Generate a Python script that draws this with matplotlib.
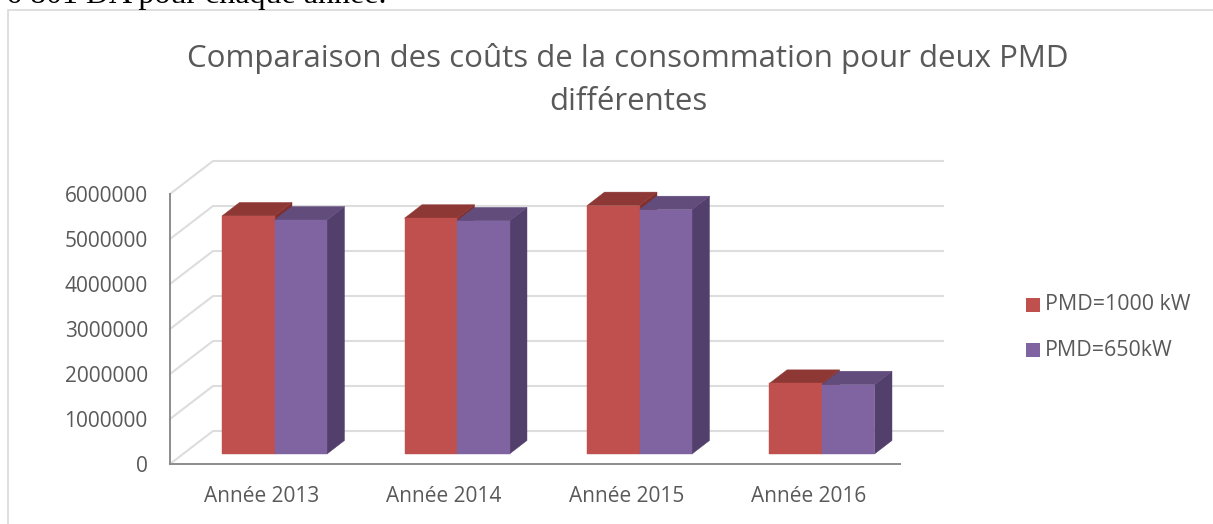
"""Comparaison des couts: fake-3D clustered columns, drawn on a flat axes."""
import matplotlib
matplotlib.use("Agg")
import matplotlib.pyplot as plt
from matplotlib.patches import Polygon, Rectangle

years = ["Année 2013", "Année 2014", "Année 2015", "Année 2016"]
pmd_1000 = [5290000, 5240000, 5520000, 1570000]
pmd_650 = [5200000, 5180000, 5430000, 1540000]
y_ticks = [0, 1000000, 2000000, 3000000, 4000000, 5000000, 6000000]
series_names = ["PMD=1000 kW", "PMD=650kW"]

W, H = 1213, 524
FONT = "Open Sans"
TEXT = "#595959"

RED = "#c0504d"
RED_TOP = "#8e3836"
PURPLE = "#8064a2"
PURPLE_TOP = "#624c7c"
PURPLE_SIDE = "#523f6b"
RED_SIDE = "#7f302e"


def px_x(x):
    return x / W


def px_y(y):
    return 1 - y / H


fig = plt.figure(figsize=(W / 100, H / 100), dpi=100)
fig.patches.append(Rectangle((px_x(8), px_y(530)), px_x(1300), px_y(10) - px_y(530),
                             transform=fig.transFigure, fc="white", ec="#d9d9d9", lw=1.2,
                             zorder=-1))

# front plane of the fake 3D box: 170..900 px wide, 194..464 px high
ax = fig.add_axes([px_x(170), px_y(464), px_x(900 - 170), px_y(194) - px_y(464)])
ax.set_xlim(0, 4)
ax.set_ylim(0, 6000000)
ax.patch.set_visible(False)
ax.spines[["top", "right"]].set_visible(False)
for side in ["left", "bottom"]:
    ax.spines[side].set_color("#8c8c8c")
    ax.spines[side].set_linewidth(1.4)
    ax.spines[side].set_zorder(6)

# px to data
ux = 4 / 730
uy = 6000000 / 270
depth_x, depth_y = 43 * ux, 33 * uy

# back wall gridlines and the slanted floor/side lines
for v in y_ticks:
    ax.plot([0, depth_x, 4 + depth_x], [v, v + depth_y, v + depth_y],
            color="#dddddd", lw=1.5, clip_on=False, zorder=1, solid_joinstyle="miter")

ax.set_yticks(y_ticks)
ax.set_yticklabels([str(v) for v in y_ticks], fontsize=15, color=TEXT, family=FONT)
ax.set_xticks([0.5 + i for i in range(4)])
ax.set_xticklabels(years, fontsize=15, color=TEXT, family=FONT)
ax.tick_params(length=0)
ax.tick_params(axis="y", pad=16)
ax.tick_params(axis="x", pad=16)

# columns stand part way into the floor, depth 17x13 px
bar_w = 52.5 * ux
off_x, off_y = 13.2 * ux, 10 * uy
bd_x, bd_y = 17.5 * ux, 13.5 * uy


def column(left, value, face, top, side):
    x0, x1 = left + off_x, left + off_x + bar_w
    y0, y1 = off_y, off_y + value
    pts_side = [(x1, y0), (x1 + bd_x, y0 + bd_y), (x1 + bd_x, y1 + bd_y), (x1, y1)]
    pts_top = [(x0, y1), (x0 + bd_x, y1 + bd_y), (x1 + bd_x, y1 + bd_y), (x1, y1)]
    ax.add_patch(Polygon(pts_side, fc=side, ec=side, lw=0.3, clip_on=False, zorder=3))
    ax.add_patch(Polygon(pts_top, fc=top, ec=top, lw=0.3, clip_on=False, zorder=3))
    ax.add_patch(Rectangle((x0, y0), bar_w, value, fc=face, ec=face, lw=0.3, clip_on=False, zorder=3))


for i in range(4):
    start = i + (222 - 170 - 13.2) * ux
    column(start, pmd_1000[i], RED, RED_TOP, RED_SIDE)
    column(start + bar_w, pmd_650[i], PURPLE, PURPLE_TOP, PURPLE_SIDE)

# legend by hand, spacing is wider than the default one
for name, color, y in zip(series_names, [RED, PURPLE], [305, 350]):
    fig.patches.append(Rectangle((px_x(1026), px_y(y + 7)), 14 / W, 14 / H,
                                 transform=fig.transFigure, fc=color, ec="none"))
    fig.text(px_x(1045), px_y(y), name, fontsize=15.4, color=TEXT, family=FONT, va="center")

fig.text(px_x(628), px_y(59), "Comparaison des coûts de la consommation pour deux PMD",
         fontsize=22.5, color=TEXT, family=FONT, ha="center", va="center")
fig.text(px_x(628), px_y(102), "différentes",
         fontsize=22.5, color=TEXT, family=FONT, ha="center", va="center")

# line of the report text cut off by the crop
fig.text(px_x(6), px_y(3), "6 801 DA pour chaque année.", fontsize=23, color="black",
         family="Liberation Serif", va="baseline")

fig.savefig("out.png", dpi=100)
